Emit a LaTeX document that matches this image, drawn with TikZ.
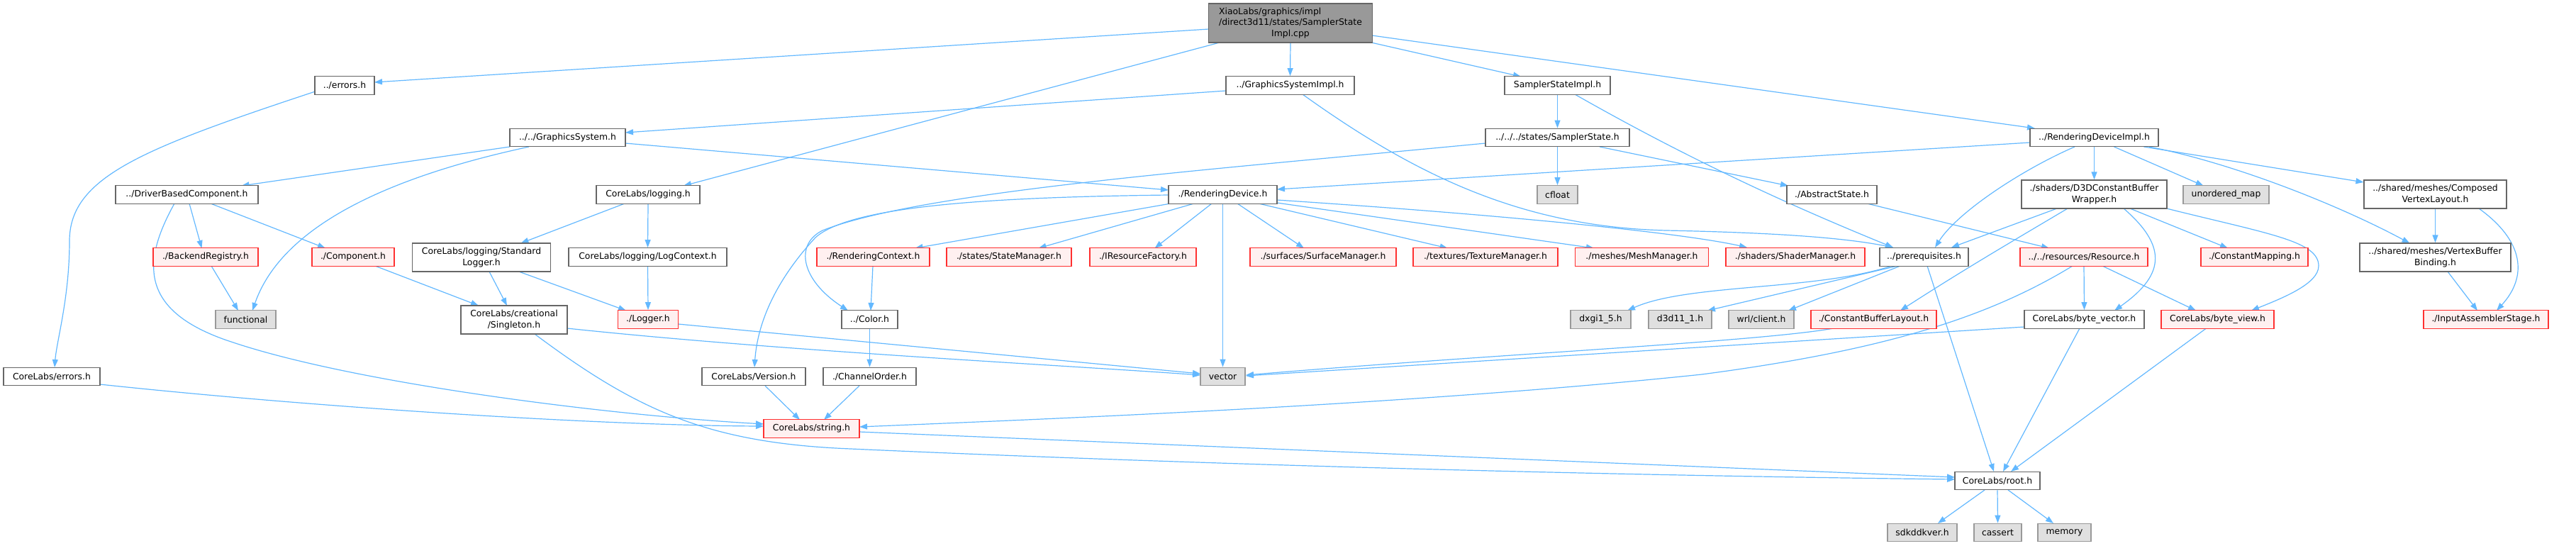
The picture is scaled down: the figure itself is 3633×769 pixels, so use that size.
\documentclass[tikz,border=0pt]{standalone}
\usepackage{fontspec}
\setmainfont{DejaVu Sans}
\usetikzlibrary{arrows.meta,calc}
\definecolor{edgeblue}{HTML}{63B8FF}
\definecolor{bordergrey}{HTML}{666666}
\definecolor{extborder}{HTML}{999999}
\definecolor{extfill}{HTML}{E0E0E0}
\definecolor{redfill}{HTML}{FFF0F0}
\definecolor{redborder}{HTML}{FF3030}
\definecolor{rootfill}{HTML}{999999}
\pgfdeclarelayer{background}
\pgfsetlayers{background,main}
\begin{document}
\begin{tikzpicture}[x=1pt,y=-1pt,
  every node/.style={font=\fontsize{12.4}{15.5}\selectfont, inner sep=0pt, line width=1.3pt, minimum height=25.5pt, align=center},
  box/.style={draw=bordergrey, fill=white},
  redbox/.style={draw=redborder, fill=redfill},
  extbox/.style={draw=extborder, fill=extfill},
  rootbox/.style={draw=bordergrey, fill=rootfill},
  two/.style={minimum height=40pt},
  dep/.style={draw=edgeblue, line width=1.2pt, -{Triangle[length=11pt,width=8pt]}}
]
\useasboundingbox (0,0) rectangle (3633,769);

% row 0
\node[rootbox, minimum width=231pt, minimum height=55pt] (root) at (1820,32.5)
  {\begin{tabular}{@{}l@{}}XiaoLabs/graphics/impl\\/direct3d11/states/SamplerState\\\multicolumn{1}{@{}c@{}}{Impl.cpp}\end{tabular}};
% row 1
\node[box, minimum width=84pt] (errh) at (486,120.5) {../errors.h};
\node[box, minimum width=181pt] (gsi) at (1819.5,120.5) {../GraphicsSystemImpl.h};
\node[box, minimum width=149pt] (ssi) at (2196.5,120.5) {SamplerStateImpl.h};
% row 2
\node[box, minimum width=163pt] (gs) at (800.5,194) {../../GraphicsSystem.h};
\node[box, minimum width=203pt] (ss) at (2196.5,194) {../../../states/SamplerState.h};
\node[box, minimum width=181pt] (rdi) at (2953.5,194) {../RenderingDeviceImpl.h};
% row 3
\node[box, minimum width=201pt] (dbc) at (263.5,274.5) {../DriverBasedComponent.h};
\node[box, minimum width=146pt] (log) at (914,274.5) {CoreLabs/logging.h};
\node[box, minimum width=153pt] (rd) at (1724.5,274.5) {./RenderingDevice.h};
\node[extbox, minimum width=57pt] (cfl) at (2196.5,274.5) {cfloat};
\node[box, minimum width=127pt] (abs) at (2583.5,274.5) {./AbstractState.h};
\node[box, two, minimum width=205pt] (cbw) at (2953.5,274) {./shaders/D3DConstantBuffer\\Wrapper.h};
\node[extbox, minimum width=121pt] (umap) at (3139.5,274.5) {unordered\_map};
\node[box, two, minimum width=201pt] (cvl) at (3434.5,274) {../shared/meshes/Composed\\VertexLayout.h};
% row 4
\node[redbox, minimum width=148pt] (br) at (290,362.5) {./BackendRegistry.h};
\node[redbox, minimum width=116pt] (comp) at (498,362.5) {./Component.h};
\node[box, two, minimum width=195pt] (sl) at (679,363) {CoreLabs/logging/Standard\\Logger.h};
\node[box, minimum width=223pt] (lc) at (913.5,362.5) {CoreLabs/logging/LogContext.h};
\node[redbox, minimum width=159pt] (rc) at (1231.5,362.5) {./RenderingContext.h};
\node[redbox, minimum width=176pt] (sm) at (1423,362.5) {./states/StateManager.h};
\node[redbox, minimum width=150pt] (irf) at (1612,362.5) {./IResourceFactory.h};
\node[redbox, minimum width=206pt] (sfm) at (1866,362.5) {./surfaces/SurfaceManager.h};
\node[redbox, minimum width=204pt] (tm) at (2095,362.5) {./textures/TextureManager.h};
\node[redbox, minimum width=188pt] (mm) at (2315.5,362.5) {./meshes/MeshManager.h};
\node[redbox, minimum width=196pt] (shm) at (2532,362.5) {./shaders/ShaderManager.h};
\node[box, minimum width=125pt] (pre) at (2713.5,362.5) {../prerequisites.h};
\node[redbox, minimum width=180pt] (res) at (2939,362.5) {../../resources/Resource.h};
\node[redbox, minimum width=151pt] (cm) at (3179.5,362.5) {./ConstantMapping.h};
\node[box, two, minimum width=213pt] (vbb) at (3434.5,363) {../shared/meshes/VertexBuffer\\Binding.h};
% row 5
\node[extbox, minimum width=85pt] (func) at (346.5,450.5) {functional};
\node[box, two, minimum width=150pt] (sgl) at (725,451) {CoreLabs/creational\\/Singleton.h};
\node[redbox, minimum width=85pt] (lg) at (914,450.5) {./Logger.h};
\node[box, minimum width=79pt] (col) at (1226.5,450.5) {../Color.h};
\node[extbox, minimum width=85pt] (dxgi) at (2257.5,450.5) {dxgi1\_5.h};
\node[extbox, minimum width=89pt] (d3d) at (2369.5,450.5) {d3d11\_1.h};
\node[extbox, minimum width=92pt] (wrl) at (2484,450.5) {wrl/client.h};
\node[redbox, minimum width=177pt] (cbl) at (2642.5,450.5) {./ConstantBufferLayout.h};
\node[box, minimum width=169pt] (bvec) at (2939.5,450.5) {CoreLabs/byte\_vector.h};
\node[redbox, minimum width=159pt] (bview) at (3127.5,450.5) {CoreLabs/byte\_view.h};
\node[redbox, minimum width=176pt] (ias) at (3506,450.5) {./InputAssemblerStage.h};
% row 6
\node[box, minimum width=136pt] (cerr) at (73,531) {CoreLabs/errors.h};
\node[box, minimum width=146pt] (ver) at (1063,531) {CoreLabs/Version.h};
\node[box, minimum width=131pt] (co) at (1226.5,531) {./ChannelOrder.h};
\node[extbox, minimum width=63pt] (vec) at (1724.5,531) {vector};
% row 7
\node[redbox, minimum width=135pt] (str) at (1144.5,604.5) {CoreLabs/string.h};
\node[box, minimum width=120pt] (cr) at (2817,678) {CoreLabs/root.h};
% row 8
\node[extbox, minimum width=98pt] (sdk) at (2711,751) {sdkddkver.h};
\node[extbox, minimum width=67pt] (cas) at (2817.5,751) {cassert};
\node[extbox, minimum width=75pt] (mem) at (2911.5,751) {memory};

\begin{pgfonlayer}{background}
% root
\draw[dep] ($(root)+(-115,8.5)$) -- ($(errh)+(42,-4.5)$);
\draw[dep] (root.south) -- (gsi.north);
\draw[dep] ($(root)+(114,27.5)$) -- ($(ssi)+(-51.5,-12.5)$);
\draw[dep] ($(root)+(115,17.5)$) -- ($(rdi)+(-83.5,-13)$);
\draw[dep] ($(root)+(-100,27.5)$) -- ($(log)+(50,-12.5)$);
% errors
\draw[dep] ($(errh)+(-41.5,8.5)$) .. controls (200,210) and (98,250) .. (98,340) .. controls (98,420) and (80,480) .. ($(cerr)+(4,-13)$);
\draw[dep] ($(cerr)+(68,11)$) .. controls (450,575) and (850,600) .. ($(str)+(-67.5,-3.5)$);
% GraphicsSystemImpl
\draw[dep] ($(gsi)+(-90.5,7.5)$) -- ($(gs)+(81.5,-7)$);
\draw[dep] ($(gsi)+(17.5,12.5)$) .. controls (2000,250) and (2150,320) .. (2350,325) .. controls (2500,328) and (2600,335) .. ($(pre)+(-43.5,-13.5)$);
% SamplerStateImpl
\draw[dep] (ssi.south) -- (ss.north);
\draw[dep] ($(ssi)+(24.5,12.5)$) .. controls (2400,235) and (2550,300) .. ($(pre)+(-43.5,-13.5)$);
% SamplerState
\draw[dep] ($(ss)+(59.5,13)$) -- ($(abs)+(-61.5,-12.5)$);
\draw[dep] (ss.south) -- (cfl.north);
\draw[dep] ($(ss)+(-101.5,8)$) .. controls (1700,240) and (1300,270) .. (1160,325) .. controls (1120,345) and (1130,395) .. ($(col)+(-30.5,-12.5)$);
% GraphicsSystem
\draw[dep] ($(gs)+(-81.5,13)$) -- ($(dbc)+(77,-12.5)$);
\draw[dep] ($(gs)+(-54.5,13)$) .. controls (500,260) and (390,340) .. ($(func)+(9.5,-12.5)$);
\draw[dep] ($(gs)+(81.5,8)$) -- ($(rd)+(-76.5,-6.5)$);
% DriverBasedComponent
\draw[dep] ($(dbc)+(3.5,12.5)$) -- ($(br)+(-5.5,-12.5)$);
\draw[dep] ($(dbc)+(33.5,12.5)$) -- ($(comp)+(-39,-12.5)$);
\draw[dep] ($(dbc)+(-17.5,12.5)$) .. controls (200,370) and (195,440) .. (329,483) .. controls (500,540) and (850,585) .. ($(str)+(-67.5,-6.5)$);
\draw[dep] ($(br)+(8,12.5)$) -- ($(func)+(-10.5,-12.5)$);
\draw[dep] ($(comp)+(31,12.5)$) -- ($(sgl)+(-50,-20)$);
% logging
\draw[dep] ($(log)+(-33,12.5)$) -- ($(sl)+(55.5,-20)$);
\draw[dep] (log.south) -- (lc.north);
\draw[dep] ($(sl)+(11,20)$) -- ($(sgl)+(-10,-20)$);
\draw[dep] ($(sl)+(52.7,20)$) -- ($(lg)+(-31,-12.5)$);
\draw[dep] (lc.south) -- (lg.north);
\draw[dep] ($(lg)+(42.5,6.5)$) -- ($(vec)+(-31.5,-4)$);
\draw[dep] ($(sgl)+(75,12)$) .. controls (1100,495) and (1500,515) .. ($(vec)+(-31.5,-2)$);
\draw[dep] ($(sgl)+(29,20)$) .. controls (900,580) and (1000,625) .. (1200,633) .. controls (1800,660) and (2400,672) .. ($(cr)+(-60,-2)$);
% string and friends
\draw[dep] ($(str)+(67.5,4.5)$) -- ($(cr)+(-60,-5)$);
\draw[dep] ($(ver)+(16,13)$) -- ($(str)+(-16.5,-12.5)$);
\draw[dep] ($(co)+(-14.5,13)$) -- ($(str)+(17.5,-12.5)$);
\draw[dep] (col.south) -- (co.north);
\draw[dep] ($(rc)+(-0.5,12.5)$) -- ($(col)+(1.5,-12.5)$);
% RenderingDevice
\draw[dep] ($(rd)+(-76.5,0.5)$) .. controls (1400,278) and (1200,290) .. (1150,335) .. controls (1090,400) and (1068,460) .. ($(ver)+(1,-13)$);
\draw[dep] ($(rd)+(-73.5,12.5)$) -- ($(rc)+(59,-12.5)$);
\draw[dep] ($(rd)+(-40.5,12.5)$) -- ($(sm)+(41.6,-12.5)$);
\draw[dep] ($(rd)+(-15.5,12.5)$) -- ($(irf)+(16.5,-12.5)$);
\draw[dep] (rd.south) -- (vec.north);
\draw[dep] ($(rd)+(20.5,12.5)$) -- ($(sfm)+(-27,-12.5)$);
\draw[dep] ($(rd)+(50.5,12.5)$) -- ($(tm)+(-53.4,-12.5)$);
\draw[dep] ($(rd)+(76.5,11.5)$) -- ($(mm)+(-67.5,-12.5)$);
\draw[dep] ($(rd)+(76.5,7.5)$) .. controls (2150,305) and (2380,330) .. ($(shm)+(-68,-13.5)$);
% RenderingDeviceImpl
\draw[dep] ($(rdi)+(-90.5,7)$) -- ($(rd)+(76.5,-7.5)$);
\draw[dep] ($(rdi)+(-27.5,13)$) .. controls (2850,240) and (2760,300) .. ($(pre)+(15.5,-13.5)$);
\draw[dep] (rdi.south) -- (cbw.north);
\draw[dep] ($(rdi)+(28,13)$) -- ($(umap)+(-31.8,-12.5)$);
\draw[dep] ($(rdi)+(70,13)$) -- ($(cvl)+(-101,-17)$);
\draw[dep] ($(rdi)+(77.5,13)$) .. controls (3150,230) and (3300,290) .. ($(vbb)+(-36,-20)$);
% D3DConstantBufferWrapper
\draw[dep] ($(cbw)+(-52.5,20)$) -- ($(pre)+(38.5,-13.5)$);
\draw[dep] ($(cbw)+(-37.5,20)$) .. controls (2830,345) and (2770,380) .. ($(cbl)+(37.5,-12.5)$);
\draw[dep] ($(cbw)+(41.5,20)$) .. controls (3060,350) and (3050,390) .. ($(bvec)+(42.5,-12.5)$);
\draw[dep] ($(cbw)+(50.5,20)$) -- ($(cm)+(-37.5,-12.5)$);
\draw[dep] ($(cbw)+(102,20)$) .. controls (3200,330) and (3270,340) .. (3270,375) .. controls (3270,400) and (3220,420) .. ($(bview)+(47.5,-12.5)$);
% Resource / AbstractState
\draw[dep] ($(abs)+(49.5,12.5)$) -- ($(res)+(-49,-12.5)$);
\draw[dep] ($(res)+(-16,12.5)$) .. controls (2800,450) and (2650,495) .. (2400,528) .. controls (2000,570) and (1500,590) .. ($(str)+(67.5,-2.5)$);
\draw[dep] (res.south) -- (bvec.north);
\draw[dep] ($(res)+(26,12.5)$) -- ($(bview)+(-30.5,-12.5)$);
% meshes
\draw[dep] (cvl.south) -- (vbb.north);
\draw[dep] ($(cvl)+(61.5,20)$) .. controls (3560,340) and (3565,390) .. ($(ias)+(15,-12.5)$);
\draw[dep] ($(vbb)+(17.5,20)$) -- ($(ias)+(-12,-12.5)$);
% prerequisites
\draw[dep] ($(pre)+(-45.5,12.5)$) .. controls (2560,410) and (2380,400) .. ($(dxgi)+(37.5,-12.5)$);
\draw[dep] ($(pre)+(-37.5,12.5)$) -- ($(d3d)+(38.5,-12.5)$);
\draw[dep] ($(pre)+(-33.5,12.5)$) -- ($(wrl)+(38,-12.5)$);
\draw[dep] ($(pre)+(4.5,12.5)$) -- ($(cr)+(-5,-13)$);
% bottom
\draw[dep] ($(cbl)+(-56.5,12.5)$) .. controls (2480,482) and (2100,500) .. ($(vec)+(32.5,-2)$);
\draw[dep] ($(bvec)+(-84.5,10.5)$) -- ($(vec)+(32.5,-1)$);
\draw[dep] ($(bvec)+(-6.5,12.5)$) -- ($(cr)+(8,-13)$);
\draw[dep] ($(bview)+(-16,12.5)$) -- ($(cr)+(19,-13)$);
\draw[dep] ($(cr)+(-18,13)$) -- ($(sdk)+(22,-13)$);
\draw[dep] (cr.south) -- (cas.north);
\draw[dep] ($(cr)+(15,13)$) -- ($(mem)+(-15.5,-13)$);
\end{pgfonlayer}
\end{tikzpicture}
\end{document}
